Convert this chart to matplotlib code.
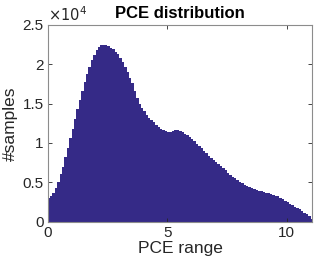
import numpy as np
import matplotlib
matplotlib.use("Agg")
import matplotlib.pyplot as plt
from matplotlib.ticker import FuncFormatter

plt.rcParams['font.family'] = ['Liberation Sans', 'DejaVu Sans']

# histogram bin edges start / width and counts
bin_start = 0.0
bin_width = 0.1
counts = [
    3.0, 3.3, 3.7, 4.3, 5.0, 6.0, 7.0, 8.2, 9.4, 10.6,
    11.8, 13.0, 14.3, 15.5, 16.6, 17.7, 18.8, 19.7, 20.5, 21.2,
    21.8, 22.2, 22.4, 22.5, 22.4, 22.3, 22.1, 21.9, 21.6, 21.3,
    20.8, 20.3, 19.7, 19.0, 18.3, 17.6, 16.6, 15.7, 15.0, 14.5,
    14.0, 13.6, 13.2, 12.9, 12.6, 12.3, 12.0, 11.8, 11.6, 11.5,
    11.4, 11.4, 11.5, 11.6, 11.6, 11.5, 11.4, 11.2, 11.0, 10.8,
    10.5, 10.2, 9.9, 9.6, 9.3, 9.0, 8.7, 8.4, 8.1, 7.8,
    7.55, 7.35, 7.1, 6.8, 6.5, 6.2, 5.95, 5.7, 5.5, 5.3,
    5.05, 4.85, 4.65, 4.5, 4.35, 4.25, 4.15, 4.05, 3.95, 3.85,
    3.75, 3.65, 3.6, 3.5, 3.4, 3.3, 3.2, 3.0, 2.85, 2.65,
    2.5, 2.3, 2.1, 1.9, 1.75, 1.55, 1.35, 1.15, 0.95, 0.7,
    0.4,
]
counts = np.array(counts) * 1000
edges = bin_start + bin_width * np.arange(len(counts))

xticks = [0, 5, 10]
yticks = [0, 5000, 10000, 15000, 20000, 25000]

fig = plt.figure(figsize=(3.16, 2.62), dpi=100)
ax = fig.add_axes([0.151, 0.154, 0.837, 0.751])
ax.bar(edges, counts, width=bin_width, align='edge', color='#352A87',
       edgecolor='none', linewidth=0)

ax.set_xlim(0, 11.07)
ax.set_ylim(0, 25000)
ax.set_xticks(xticks)
ax.set_yticks(yticks)
ax.yaxis.set_major_formatter(FuncFormatter(lambda v, p: '%g' % (v / 1e4)))
ax.tick_params(direction='in', top=True, right=True, length=3, width=0.6,
               labelsize=11, colors='#262626', pad=3)
for s in ax.spines.values():
    s.set_color('#8c8c8c')
    s.set_linewidth(0.8)

ax.text(0.0, 1.005, r'$\times10^4$', transform=ax.transAxes, fontsize=10.5,
        ha='left', va='bottom', color='#262626')
ax.set_title('PCE distribution', fontsize=12, fontweight='bold', pad=5)
ax.set_xlabel('PCE range', fontsize=12.5, labelpad=1, color='#262626')
ax.set_ylabel('#samples', fontsize=12.5, labelpad=3, color='#262626')

fig.savefig('out.png', dpi=100)
